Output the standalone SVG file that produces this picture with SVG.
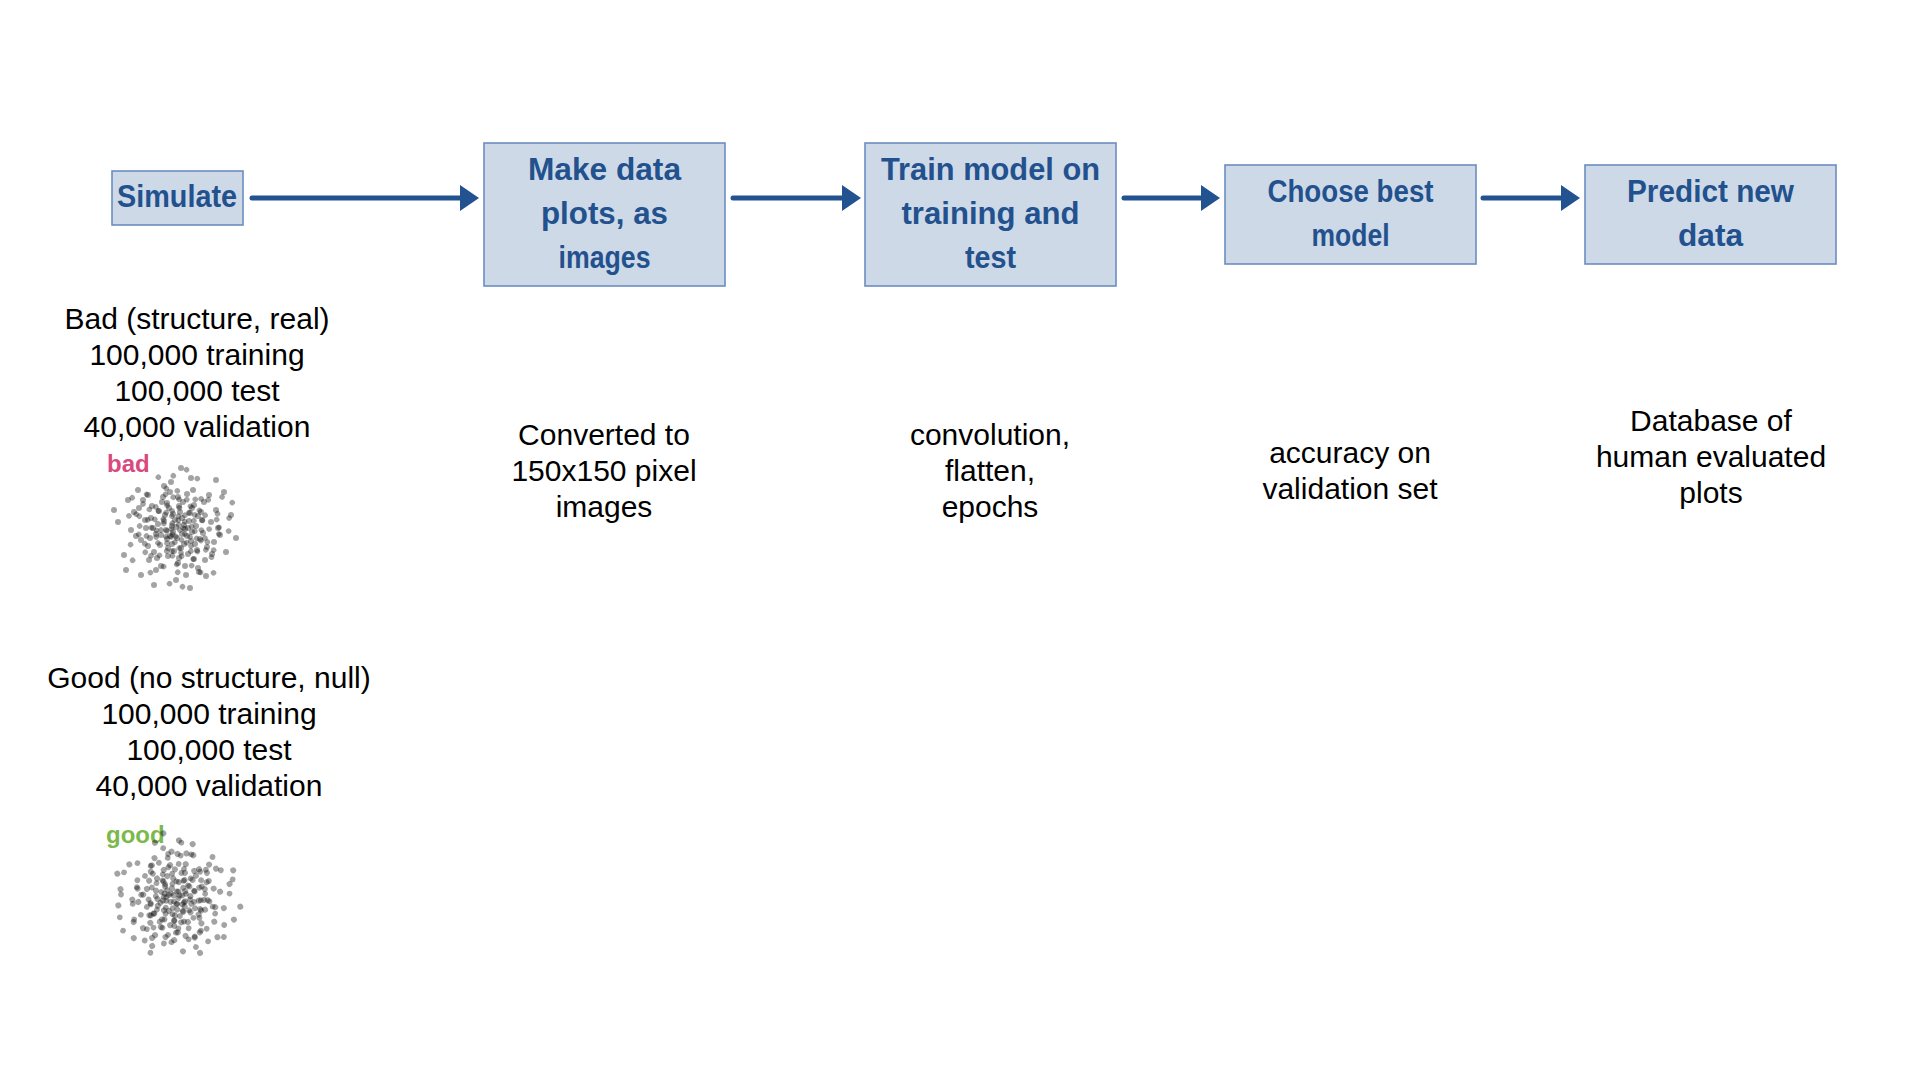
<svg xmlns="http://www.w3.org/2000/svg" xmlns:xlink="http://www.w3.org/1999/xlink" width="1920" height="1080" viewBox="0 0 1920 1080">
<style>
.box{fill:#cdd9e7;stroke:#6b8dc0;stroke-width:1.6}
.bl{font-family:"Liberation Sans",Arial,sans-serif;font-weight:bold;font-size:32px;fill:#22518e;text-anchor:middle}
.t{font-family:"Liberation Sans",Arial,Helvetica,sans-serif;font-size:30px;fill:#000;text-anchor:middle}
.conn{stroke:#22528f;stroke-width:5;stroke-linecap:round;fill:none}
.dot{fill:#000;fill-opacity:0.36}
</style>
<defs>
<marker id="ah" markerUnits="userSpaceOnUse" markerWidth="20" markerHeight="26" refX="1" refY="13" orient="auto">
<path d="M0,0 L19,13 L0,26 Z" fill="#22528f"/>
</marker>
<g id="cloud" class="dot">
<circle cx="-3" cy="2" r="3"/><circle cx="8" cy="-5" r="3"/><circle cx="-12" cy="-9" r="3"/><circle cx="15" cy="11" r="3"/><circle cx="-20" cy="4" r="3"/>
<circle cx="5" cy="18" r="3"/><circle cx="22" cy="-14" r="3"/><circle cx="-7" cy="-22" r="3"/><circle cx="0" cy="-3" r="3"/><circle cx="11" cy="6" r="3"/>
<circle cx="-16" cy="15" r="3"/><circle cx="27" cy="3" r="3"/><circle cx="-25" cy="-12" r="3"/><circle cx="3" cy="28" r="3"/><circle cx="18" cy="-25" r="3"/>
<circle cx="-9" cy="9" r="3"/><circle cx="6" cy="-12" r="3"/><circle cx="-30" cy="-2" r="3"/><circle cx="31" cy="17" r="3"/><circle cx="-14" cy="-28" r="3"/>
<circle cx="12" cy="24" r="3"/><circle cx="-4" cy="14" r="3"/><circle cx="20" cy="-4" r="3"/><circle cx="-22" cy="22" r="3"/><circle cx="2" cy="-33" r="3"/>
<circle cx="35" cy="-8" r="3"/><circle cx="-35" cy="10" r="3"/><circle cx="9" cy="36" r="3"/><circle cx="-11" cy="-15" r="3"/><circle cx="14" cy="-17" r="3"/>
<circle cx="-18" cy="-6" r="3"/><circle cx="24" cy="9" r="3"/><circle cx="-6" cy="-38" r="3"/><circle cx="40" cy="-20" r="3"/><circle cx="-42" cy="-18" r="3"/>
<circle cx="-27" cy="30" r="3"/><circle cx="29" cy="30" r="3"/><circle cx="16" cy="2" r="3"/><circle cx="-2" cy="21" r="3"/><circle cx="7" cy="-28" r="3"/>
<circle cx="-24" cy="-24" r="3"/><circle cx="1" cy="8" r="3"/><circle cx="-10" cy="0" r="3"/><circle cx="13" cy="-9" r="3"/><circle cx="-15" cy="5" r="3"/>
<circle cx="19" cy="14" r="3"/><circle cx="-8" cy="26" r="3"/><circle cx="25" cy="-18" r="3"/><circle cx="-33" cy="-30" r="3"/><circle cx="44" cy="5" r="3"/>
<circle cx="-45" cy="0" r="3"/><circle cx="10" cy="45" r="3"/><circle cx="-20" cy="40" r="3"/><circle cx="33" cy="-35" r="3"/><circle cx="-5" cy="-48" r="3"/>
<circle cx="50" cy="22" r="3"/><circle cx="-52" cy="25" r="3"/><circle cx="23" cy="42" r="3"/><circle cx="-38" cy="-40" r="3"/><circle cx="4" cy="-18" r="3"/>
<circle cx="-13" cy="-33" r="3"/><circle cx="17" cy="-40" r="3"/><circle cx="36" cy="24" r="3"/><circle cx="-28" cy="16" r="3"/><circle cx="-1" cy="-10" r="3"/>
<circle cx="6" cy="4" r="3"/><circle cx="-17" cy="-19" r="3"/><circle cx="21" cy="20" r="3"/><circle cx="-31" cy="-10" r="3"/><circle cx="12" cy="-2" r="3"/>
<circle cx="-6" cy="6" r="3"/><circle cx="3" cy="-24" r="3"/><circle cx="-19" cy="28" r="3"/><circle cx="28" cy="-28" r="3"/><circle cx="-40" cy="6" r="3"/>
<circle cx="42" cy="-2" r="3"/><circle cx="0" cy="50" r="3"/><circle cx="-12" cy="-44" r="3"/><circle cx="55" cy="-15" r="3"/><circle cx="-58" cy="-8" r="3"/>
<circle cx="30" cy="46" r="3"/><circle cx="-35" cy="45" r="3"/><circle cx="15" cy="-52" r="3"/><circle cx="-48" cy="-30" r="3"/><circle cx="48" cy="-38" r="3"/>
<circle cx="8" cy="14" r="3"/><circle cx="-23" cy="-2" r="3"/><circle cx="26" cy="-10" r="3"/><circle cx="-9" cy="-27" r="3"/><circle cx="2" cy="33" r="3"/>
<circle cx="-26" cy="8" r="3"/><circle cx="18" cy="29" r="3"/><circle cx="11" cy="-36" r="3"/><circle cx="-37" cy="-22" r="3"/><circle cx="38" cy="12" r="3"/>
<circle cx="-15" cy="36" r="3"/><circle cx="-3" cy="-16" r="3"/><circle cx="9" cy="-1" r="3"/><circle cx="-28" cy="-35" r="3"/><circle cx="22" cy="38" r="3"/>
<circle cx="60" cy="8" r="3"/><circle cx="-62" cy="-20" r="3"/><circle cx="-22" cy="55" r="3"/><circle cx="40" cy="-50" r="3"/><circle cx="5" cy="-62" r="3"/>
<circle cx="14" cy="58" r="3"/><circle cx="-50" cy="40" r="3"/><circle cx="-8" cy="18" r="3"/><circle cx="16" cy="-22" r="3"/><circle cx="-4" cy="-4" r="3"/>
</g>
</defs>
<rect width="1920" height="1080" fill="#fff"/>

<g id="connectors">
<line class="conn" x1="252" y1="198" x2="461" y2="198" marker-end="url(#ah)"/>
<line class="conn" x1="733" y1="198" x2="843" y2="198" marker-end="url(#ah)"/>
<line class="conn" x1="1124" y1="198" x2="1202" y2="198" marker-end="url(#ah)"/>
<line class="conn" x1="1483" y1="198" x2="1562" y2="198" marker-end="url(#ah)"/>
</g>

<g id="simulate">
<rect class="box" x="112" y="171" width="131" height="54"/>
<text class="bl" x="177" y="207" textLength="120" lengthAdjust="spacingAndGlyphs">Simulate</text>
</g>
<g id="make-plots">
<rect class="box" x="484" y="143" width="241" height="143"/>
<text class="bl" x="604.5" y="180" textLength="153" lengthAdjust="spacingAndGlyphs">Make data</text>
<text class="bl" x="604.5" y="224" textLength="127" lengthAdjust="spacingAndGlyphs">plots, as</text>
<text class="bl" x="604.5" y="268" textLength="92" lengthAdjust="spacingAndGlyphs">images</text>
</g>
<g id="train">
<rect class="box" x="865" y="143" width="251" height="143"/>
<text class="bl" x="990.5" y="180" textLength="219" lengthAdjust="spacingAndGlyphs">Train model on</text>
<text class="bl" x="990.5" y="224" textLength="178" lengthAdjust="spacingAndGlyphs">training and</text>
<text class="bl" x="990.5" y="268" textLength="51" lengthAdjust="spacingAndGlyphs">test</text>
</g>
<g id="choose">
<rect class="box" x="1225" y="165" width="251" height="99"/>
<text class="bl" x="1350.5" y="202" textLength="166" lengthAdjust="spacingAndGlyphs">Choose best</text>
<text class="bl" x="1350.5" y="246" textLength="78" lengthAdjust="spacingAndGlyphs">model</text>
</g>
<g id="predict">
<rect class="box" x="1585" y="165" width="251" height="99"/>
<text class="bl" x="1710.5" y="202" textLength="167" lengthAdjust="spacingAndGlyphs">Predict new</text>
<text class="bl" x="1710.5" y="246" textLength="65" lengthAdjust="spacingAndGlyphs">data</text>
</g>

<g id="bad-info">
<text class="t" x="197" y="329">Bad (structure, real)</text>
<text class="t" x="197" y="365">100,000 training</text>
<text class="t" x="197" y="401">100,000 test</text>
<text class="t" x="197" y="437">40,000 validation</text>
</g>
<g id="bad-plot">
<text x="107" y="472" font-family="'Liberation Sans',Arial,sans-serif" font-weight="bold" font-size="24" fill="#d84a7e">bad</text>
<use xlink:href="#cloud" transform="translate(176,530)"/>
<use xlink:href="#cloud" transform="translate(178,528) rotate(137) scale(0.92)"/>
</g>

<g id="good-info">
<text class="t" x="209" y="688">Good (no structure, null)</text>
<text class="t" x="209" y="724">100,000 training</text>
<text class="t" x="209" y="760">100,000 test</text>
<text class="t" x="209" y="796">40,000 validation</text>
</g>
<g id="good-plot">
<text x="106" y="843" font-family="'Liberation Sans',Arial,sans-serif" font-weight="bold" font-size="24" fill="#7bb94c">good</text>
<use xlink:href="#cloud" transform="translate(177,897) rotate(60)"/>
<use xlink:href="#cloud" transform="translate(175,899) rotate(200) scale(0.95)"/>
</g>

<g id="plots-note">
<text class="t" x="604" y="445">Converted to</text>
<text class="t" x="604" y="481">150x150 pixel</text>
<text class="t" x="604" y="517">images</text>
</g>
<g id="train-note">
<text class="t" x="990" y="445">convolution,</text>
<text class="t" x="990" y="481">flatten,</text>
<text class="t" x="990" y="517">epochs</text>
</g>
<g id="choose-note">
<text class="t" x="1350" y="463">accuracy on</text>
<text class="t" x="1350" y="499">validation set</text>
</g>
<g id="predict-note">
<text class="t" x="1711" y="431">Database of</text>
<text class="t" x="1711" y="467">human evaluated</text>
<text class="t" x="1711" y="503">plots</text>
</g>
</svg>
